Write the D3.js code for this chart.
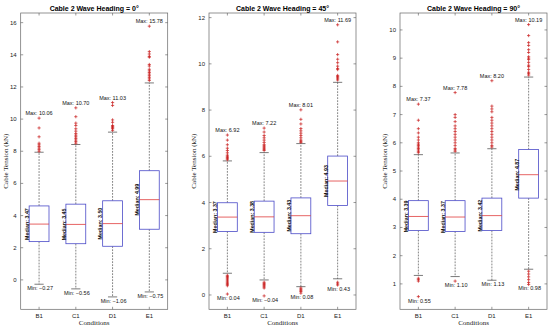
<!DOCTYPE html>
<html>
<head>
<meta charset="utf-8">
<script src="https://cdn.jsdelivr.net/npm/d3@7"></script>
<style>
  body { margin: 0; background: #fff; }
  svg text { font-family: Arial, "Liberation Sans", sans-serif; }
</style>
</head>
<body>
<svg id="chart" width="550" height="328"></svg>
<script>
// chart values
const categories = ["B1", "C1", "D1", "E1"];
const headings = ["0°", "45°", "90°"];
const medians = [[3.47, 3.45, 3.50, 4.99], [3.37, 3.38, 3.43, 4.93], [3.39, 3.37, 3.42, 4.87]];
const lowerQuartiles = [[2.38, 2.25, 2.09, 3.15], [2.75, 2.71, 2.65, 3.87], [2.89, 2.86, 2.89, 4.04]];
const upperQuartiles = [[4.60, 4.71, 4.92, 6.79], [3.99, 4.06, 4.20, 6.01], [3.95, 3.95, 4.04, 5.76]];
const upperWhiskers = [[7.94, 8.42, 9.19, 12.25], [5.80, 6.16, 6.55, 9.20], [5.58, 5.64, 5.79, 8.33]];
const lowerWhiskers = [[-0.27, -0.56, -1.06, -0.75], [0.94, 0.65, 0.36, 0.70], [1.30, 1.26, 1.13, 1.52]];
const maxima = [[10.06, 10.70, 11.03, 15.78], [6.92, 7.22, 8.01, 11.69], [7.37, 7.78, 8.20, 10.19]];
const minima = [[-0.27, -0.56, -1.06, -0.75], [0.04, -0.04, 0.08, 0.43], [0.55, 1.10, 1.13, 0.98]];
const highOutliers = [
  [
    [10.06, 9.45, 8.9, 8.5, 8.4, 8.3, 8.2, 8.1, 8.0],
    [10.70, 10.15, 9.75, 9.6, 9.4, 9.25, 9.1, 9.0, 8.9, 8.8, 8.7, 8.6, 8.5],
    [11.03, 10.85, 9.95, 9.8, 9.6, 9.55, 9.5, 9.45, 9.4, 9.3],
    [15.78, 14.2, 14.05, 13.9, 13.85, 13.4, 13.3, 13.1, 13.0, 12.9, 12.8, 12.7, 12.6, 12.5, 12.4]
  ],
  [
    [6.92, 6.7, 6.5, 6.35, 6.25, 6.15, 6.05, 6.0, 5.95, 5.9, 5.85],
    [7.22, 7.05, 6.9, 6.8, 6.7, 6.6, 6.5, 6.45, 6.4, 6.35, 6.3, 6.25],
    [8.01, 7.6, 7.4, 7.2, 7.1, 7.0, 6.9, 6.8, 6.7, 6.65, 6.6],
    [11.69, 10.95, 10.4, 10.2, 10.05, 9.9, 9.8, 9.75, 9.5, 9.45, 9.4, 9.35, 9.3]
  ],
  [
    [7.37, 6.8, 6.5, 6.35, 6.2, 6.1, 6.0, 5.95, 5.9, 5.85, 5.8, 5.75, 5.7, 5.65],
    [7.78, 7.0, 6.9, 6.75, 6.6, 6.5, 6.4, 6.3, 6.2, 6.1, 6.0, 5.9, 5.8, 5.75, 5.7],
    [8.20, 7.3, 7.2, 7.1, 6.9, 6.8, 6.7, 6.6, 6.5, 6.4, 6.3, 6.2, 6.1, 6.0, 5.9, 5.85],
    [10.19, 9.8, 9.55, 9.45, 9.3, 9.2, 9.05, 9.0, 8.95, 8.85, 8.75, 8.7, 8.6, 8.5, 8.45, 8.4]
  ]
];
const lowOutliers = [
  [[], [], [], []],
  [
    [0.85, 0.8, 0.75, 0.7, 0.65, 0.6, 0.55, 0.5, 0.45, 0.4, 0.04],
    [0.55, 0.5, 0.45, 0.4, 0.35, 0.3, -0.04],
    [0.3, 0.25, 0.2, 0.15, 0.08],
    [0.55, 0.48, 0.43]
  ],
  [
    [1.2, 1.15, 1.1, 0.55],
    [1.10],
    [],
    [1.45, 1.35, 1.25, 1.15, 1.05, 0.98]
  ]
];
const yLimits = [[-1.83, 16.6], [-0.62, 12.2], [0.1, 10.6]];
const yTicks = [d3.range(0, 17, 2), d3.range(0, 13, 2), d3.range(1, 11, 1)];

// layout
const panelLeft = [20.7, 209, 400];
const panelWidth = 147;
const plotTop = 13, plotBottom = 309.3;

const svg = d3.select("#chart");
const fmt = d3.format(".2f");

headings.forEach((heading, p) => {
  const g = svg.append("g").attr("class", "panel");
  const x = d3.scaleLinear().domain([0.5, 4.5]).range([panelLeft[p], panelLeft[p] + panelWidth]);
  const y = d3.scaleLinear().domain(yLimits[p]).range([plotBottom, plotTop]);
  const tick = 2.5;

  // frame
  g.append("rect")
    .attr("x", x.range()[0]).attr("y", plotTop)
    .attr("width", panelWidth).attr("height", plotBottom - plotTop)
    .attr("fill", "none").attr("stroke", "#666").attr("stroke-width", 0.7);

  // y ticks, inward on both sides
  yTicks[p].forEach(v => {
    g.append("line").attr("x1", x.range()[0]).attr("x2", x.range()[0] + tick)
      .attr("y1", y(v)).attr("y2", y(v)).attr("stroke", "#555").attr("stroke-width", 0.6);
    g.append("line").attr("x1", x.range()[1]).attr("x2", x.range()[1] - tick)
      .attr("y1", y(v)).attr("y2", y(v)).attr("stroke", "#555").attr("stroke-width", 0.6);
    g.append("text").attr("x", x.range()[0] - 4).attr("y", y(v) + 2)
      .attr("text-anchor", "end").attr("font-size", 6).attr("fill", "#222").text(v);
  });

  // x ticks
  categories.forEach((c, i) => {
    const cx = x(i + 1);
    g.append("line").attr("x1", cx).attr("x2", cx).attr("y1", plotBottom).attr("y2", plotBottom - tick)
      .attr("stroke", "#555").attr("stroke-width", 0.6);
    g.append("line").attr("x1", cx).attr("x2", cx).attr("y1", plotTop).attr("y2", plotTop + tick)
      .attr("stroke", "#555").attr("stroke-width", 0.6);
    g.append("text").attr("x", cx).attr("y", 317.5).attr("text-anchor", "middle")
      .attr("font-size", 6).attr("fill", "#222").text(c);
  });

  // title and axis labels
  g.append("text").attr("x", x.range()[0] + panelWidth / 2).attr("y", 10.5)
    .attr("text-anchor", "middle").attr("font-size", 7).attr("font-weight", "bold")
    .text("Cable 2 Wave Heading = " + heading);
  g.append("text").attr("x", x.range()[0] + panelWidth / 2).attr("y", 325)
    .attr("text-anchor", "middle").attr("font-size", 7)
    .style("font-family", "'Liberation Serif', 'Times New Roman', serif").attr("fill", "#222")
    .text("Conditions");
  g.append("text")
    .attr("transform", `translate(${x.range()[0] - 13},${(plotTop + plotBottom) / 2}) rotate(-90)`)
    .attr("text-anchor", "middle").attr("font-size", 7)
    .style("font-family", "'Liberation Serif', 'Times New Roman', serif").attr("fill", "#222")
    .text("Cable Tension (kN)");

  // boxes
  const half = 0.27, cap = 0.125;
  categories.forEach((c, i) => {
    const pos = i + 1;
    const cx = x(pos);
    // whiskers
    [[upperQuartiles[p][i], upperWhiskers[p][i]], [lowerQuartiles[p][i], lowerWhiskers[p][i]]].forEach(([a, b]) => {
      g.append("line").attr("x1", cx).attr("x2", cx).attr("y1", y(a)).attr("y2", y(b))
        .attr("stroke", "#333").attr("stroke-width", 0.6).attr("stroke-dasharray", "1.8,1.2");
      g.append("line").attr("x1", x(pos - cap)).attr("x2", x(pos + cap)).attr("y1", y(b)).attr("y2", y(b))
        .attr("stroke", "#222").attr("stroke-width", 0.6);
    });
    // box
    g.append("rect")
      .attr("x", x(pos - half)).attr("y", y(upperQuartiles[p][i]))
      .attr("width", x(pos + half) - x(pos - half))
      .attr("height", y(lowerQuartiles[p][i]) - y(upperQuartiles[p][i]))
      .attr("fill", "#fff").attr("stroke", "#4b4bc8").attr("stroke-width", 0.8);
    g.append("line").attr("x1", x(pos - half)).attr("x2", x(pos + half))
      .attr("y1", y(medians[p][i])).attr("y2", y(medians[p][i]))
      .attr("stroke", "#e03c3c").attr("stroke-width", 0.8);

    // outliers
    highOutliers[p][i].concat(lowOutliers[p][i]).forEach(v => {
      g.append("path")
        .attr("d", `M${cx - 1.6},${y(v)}h3.2M${cx},${y(v) - 1.6}v3.2`)
        .attr("stroke", "#c81e1e").attr("stroke-width", 0.7);
    });

    // annotations
    g.append("text").attr("x", cx).attr("y", y(maxima[p][i]) - 3)
      .attr("text-anchor", "middle").attr("font-size", 5.5).attr("fill", "#111")
      .text("Max: " + fmt(maxima[p][i]));
    g.append("text").attr("x", cx + 1).attr("y", y(minima[p][i]) + 6)
      .attr("text-anchor", "middle").attr("font-size", 5.5).attr("fill", "#111")
      .text("Min: " + fmt(minima[p][i]));
    g.append("text")
      .attr("transform", `translate(${x(pos - half) - 0.2},${y(medians[p][i])}) rotate(-90)`)
      .attr("text-anchor", "middle").attr("font-size", 5.3).attr("font-weight", "bold").attr("fill", "#111")
      .text("Median: " + fmt(medians[p][i]));
  });
});
</script>
</body>
</html>
